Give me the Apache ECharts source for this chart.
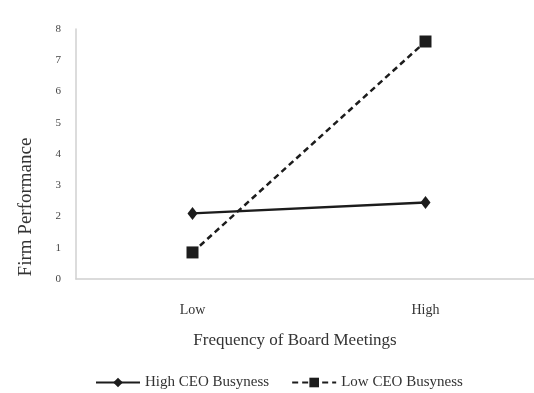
<!DOCTYPE html>
<html><head><meta charset="utf-8">
<script src="https://cdn.jsdelivr.net/npm/echarts@6/dist/echarts.min.js"></script>
<style>html,body{margin:0;padding:0;background:#fff}#c{width:534px;height:393px}</style>
</head><body><div id="c"></div>
<script>
var categories = ['Low', 'High'];
var highBusy = [2.1, 2.45];
var lowBusy = [0.85, 7.6];
var yTicks = [0, 8, 1];
var seriesNames = ['High CEO Busyness', 'Low CEO Busyness'];
var xTitle = 'Frequency of Board Meetings';
var yTitle = 'Firm Performance';

var serif = 'Liberation Serif';
var chart = echarts.init(document.getElementById('c'), null, {renderer: 'canvas'});
chart.setOption({
  animation: false,
  backgroundColor: '#fff',
  grid: {left: 76, width: 466, top: 29, height: 250, containLabel: false, outerBoundsMode: 'none'},
  xAxis: {
    type: 'category', data: categories, boundaryGap: true,
    axisLine: {lineStyle: {color: '#d0d0d0', width: 1.5}},
    axisTick: {show: false},
    axisLabel: {fontFamily: serif, fontSize: 14, color: '#333', margin: 24}
  },
  yAxis: {
    type: 'value', min: yTicks[0], max: yTicks[1], interval: yTicks[2],
    axisLine: {show: true, lineStyle: {color: '#d0d0d0', width: 1.5}},
    axisTick: {show: false},
    splitLine: {show: false},
    axisLabel: {fontFamily: serif, fontSize: 11, color: '#444', margin: 15}
  },
  legend: {
    bottom: 3, left: 95, padding: 0, itemGap: 22, itemWidth: 44, itemHeight: 12,
    textStyle: {fontFamily: serif, fontSize: 15, color: '#333'},
    data: seriesNames
  },
  graphic: [
    {type: 'text', x: 26, y: 207, rotation: Math.PI / 2,
     style: {text: yTitle, font: '19px "Liberation Serif"', fill: '#333', align: 'center', verticalAlign: 'middle'}},
    {type: 'text', x: 295, y: 341,
     style: {text: xTitle, font: '17px "Liberation Serif"', fill: '#333', align: 'center', verticalAlign: 'middle'}}
  ],
  series: [
    {name: seriesNames[0], type: 'line', data: highBusy,
     symbol: 'diamond', symbolSize: [10, 13],
     lineStyle: {color: '#1c1c1c', width: 2.5},
     itemStyle: {color: '#1c1c1c'}},
    {name: seriesNames[1], type: 'line', data: lowBusy,
     symbol: 'rect', symbolSize: 12,
     lineStyle: {color: '#1c1c1c', width: 2.5, type: [6, 4]},
     itemStyle: {color: '#1c1c1c'}}
  ]
});
</script></body></html>
